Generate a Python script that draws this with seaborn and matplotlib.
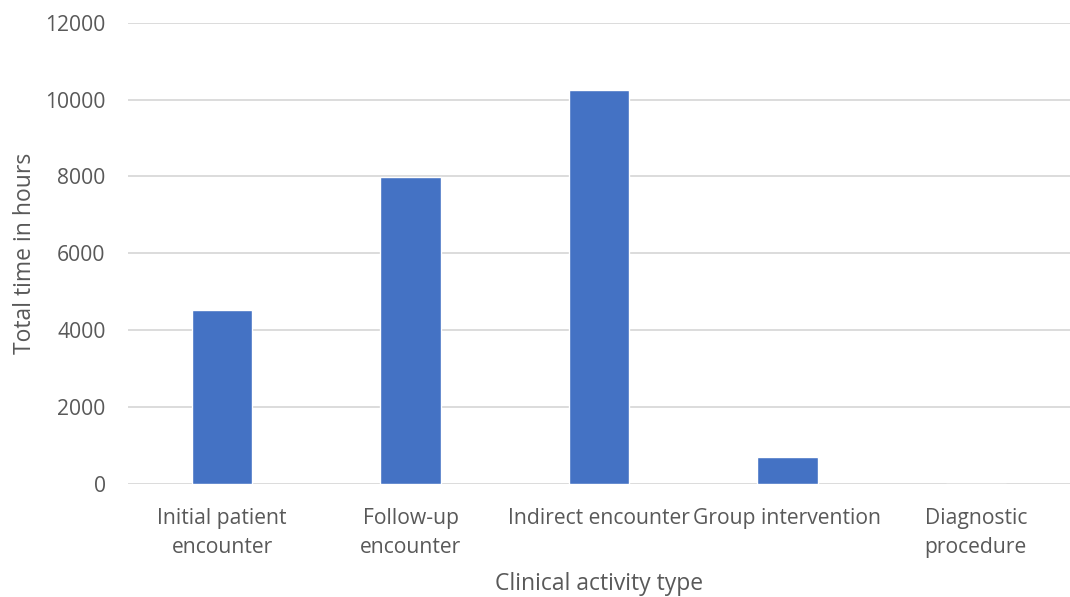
import matplotlib
matplotlib.use('Agg')
import matplotlib.pyplot as plt
import seaborn as sns
import pandas as pd

categories = ['Initial patient\nencounter', 'Follow-up\nencounter', 'Indirect encounter',
              'Group intervention', 'Diagnostic\nprocedure']
hours = [4520, 7990, 10240, 690, 0]
yticks = [0, 2000, 4000, 6000, 8000, 10000, 12000]

df = pd.DataFrame({'activity': categories, 'hours': hours})

sns.set_style('white')
plt.rcParams['font.family'] = ['Open Sans', 'DejaVu Sans']
text_color = '#595959'

fig = plt.figure(figsize=(10.7, 5.97), dpi=100)
ax = fig.add_axes([0.1196, 0.19, 0.8804, 0.772])

sns.barplot(data=df, x='activity', y='hours', color='#4472C4', width=0.32,
            saturation=1, ax=ax, zorder=3)

ax.set_ylim(0, 12000)
ax.set_yticks(yticks)
ax.set_yticklabels([str(t) for t in yticks])
ax.set_xlim(-0.5, len(categories) - 0.5)
ax.grid(axis='y', color='#d9d9d9', linewidth=1.3, zorder=0)
ax.set_axisbelow(True)
for s in ax.spines.values():
    s.set_visible(False)
ax.tick_params(axis='both', length=0, labelsize=15.2, colors=text_color)
ax.tick_params(axis='y', pad=16)
ax.tick_params(axis='x', pad=17.5)
for lbl in ax.get_xticklabels():
    lbl.set_linespacing(1.5)

ax.set_xlabel('Clinical activity type', fontsize=16.5, color=text_color, labelpad=10.5)
ax.set_ylabel('Total time in hours', fontsize=16.5, color=text_color, labelpad=6)

fig.savefig('out.png', dpi=100)
